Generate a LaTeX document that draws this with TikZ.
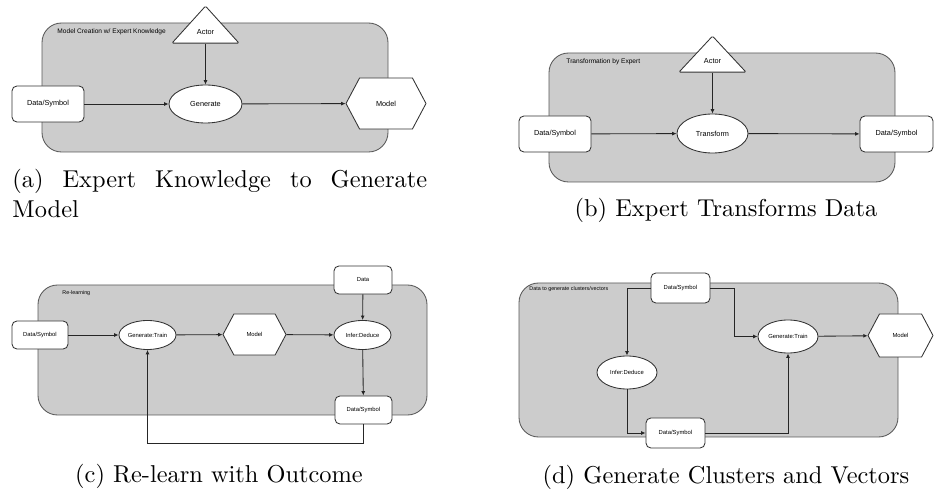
\documentclass[tikz,border=0pt]{standalone}
\usepackage{fontspec}
\newfontfamily\diafont{Liberation Sans}
\usetikzlibrary{shapes.geometric,shapes.symbols,arrows.meta}
\newcommand{\pxu}{0.41pt}
\tikzset{
  grp/.style={draw=black!65, fill=gray!40, line width=0.35pt, rounded corners=8pt},
  ttl/.style={anchor=base west, inner sep=0pt, font=\diafont\fontsize{2.7}{3}\selectfont},
  ttlsm/.style={ttl, font=\diafont\fontsize{2.2}{2.6}\selectfont},
  big/.style={font=\diafont\fontsize{3}{3.6}\selectfont},
  sml/.style={font=\diafont\fontsize{2.4}{2.9}\selectfont},
  databox/.style={rectangle, draw=black!80, fill=white, line width=0.35pt, rounded corners=2pt, inner sep=0pt},
  proc/.style={ellipse, draw=black!80, fill=white, line width=0.35pt, inner sep=0pt},
  mdl/.style={signal, signal to=east and west, signal pointer angle=124, draw=black!80, fill=white, line width=0.35pt, inner sep=0pt},
  actr/.style={isosceles triangle, isosceles triangle stretches, shape border rotate=90, draw=black!80, fill=white, line width=0.35pt, inner sep=0pt, rounded corners=0.5pt, anchor=apex},
  arr/.style={-{Latex[length=1.8pt,width=1.6pt]}, line width=0.35pt, draw=black!85},
  capt/.style={inner sep=0pt, font=\normalsize}
}
\begin{document}
\begin{tikzpicture}[x=\pxu, y=-\pxu]
\useasboundingbox (0,0) rectangle (938,497);

% (a) expert knowledge
\draw[grp] (42,23) rectangle (388,152);
\node[ttl] (ttlA) at (57,34) {Model Creation w/ Expert Knowledge};
\node[databox, big, minimum width=72*\pxu, minimum height=36*\pxu] (dsA) at (48,104) {Data/Symbol};
\node[proc, big, minimum width=73*\pxu, minimum height=38*\pxu] (genA) at (205.5,104) {Generate};
\node[mdl, big, minimum width=80*\pxu, minimum height=51*\pxu] (mdlA) at (386,103.5) {Model};
\node[actr, big, minimum width=67*\pxu, minimum height=37*\pxu] (actA) at (205.5,5) {Actor};
\draw[arr] (dsA) -- (genA);
\draw[arr] (genA) -- (mdlA);
\draw[arr] (actA.lower side) -- (genA);

% (b) transformation
\draw[grp] (549,53) rectangle (895,182);
\node[ttl] (ttlB) at (566,63.5) {Transformation by Expert};
\node[databox, big, minimum width=72*\pxu, minimum height=36*\pxu] (dsB1) at (555,134) {Data/Symbol};
\node[proc, big, minimum width=71*\pxu, minimum height=39*\pxu] (trB) at (712.5,133.5) {Transform};
\node[databox, big, minimum width=73*\pxu, minimum height=36*\pxu] (dsB2) at (896.5,134) {Data/Symbol};
\node[actr, big, minimum width=67*\pxu, minimum height=36*\pxu] (actB) at (712.5,35) {Actor};
\draw[arr] (dsB1) -- (trB);
\draw[arr] (trB) -- (dsB2);
\draw[arr] (actB.lower side) -- (trB);

% (c) re-learning
\draw[grp] (38,285) rectangle (427,415);
\node[ttlsm] (ttlC) at (62,294.5) {Re-learning};
\node[databox, sml, minimum width=58*\pxu, minimum height=28*\pxu] (datC) at (363,280) {Data};
\node[databox, sml, minimum width=56*\pxu, minimum height=28*\pxu] (dsC1) at (40,335) {Data/Symbol};
\node[proc, sml, minimum width=57*\pxu, minimum height=29*\pxu] (genC) at (147.5,335) {Generate:Train};
\node[mdl, sml, minimum width=63*\pxu, minimum height=41*\pxu] (mdlC) at (254.5,334.5) {Model};
\node[proc, sml, minimum width=57*\pxu, minimum height=29*\pxu] (infC) at (362.5,335) {Infer:Deduce};
\node[databox, sml, minimum width=57*\pxu, minimum height=28*\pxu] (dsC2) at (363.5,410) {Data/Symbol};
\draw[arr] (dsC1) -- (genC);
\draw[arr] (genC) -- (mdlC);
\draw[arr] (mdlC) -- (infC);
\draw[arr] (datC) -- (infC);
\draw[arr] (infC) -- (dsC2);
\draw[arr] (dsC2.south) -- ++(0,19) -| (genC.south);

% (d) clusters and vectors
\draw[grp] (519,283) rectangle (898,437);
\node[ttlsm] (ttlD) at (529,290.5) {Data to generate clusters/vectors};
\node[databox, sml, minimum width=59*\pxu, minimum height=30*\pxu] (dsD1) at (680.5,288) {Data/Symbol};
\node[proc, sml, minimum width=60*\pxu, minimum height=33*\pxu] (genD) at (788,336.5) {Generate:Train};
\node[mdl, sml, minimum width=65*\pxu, minimum height=43*\pxu] (mdlD) at (900.5,335.5) {Model};
\node[proc, sml, minimum width=60*\pxu, minimum height=33*\pxu] (infD) at (627,372.5) {Infer:Deduce};
\node[databox, sml, minimum width=59*\pxu, minimum height=30*\pxu] (dsD2) at (675.5,433) {Data/Symbol};
\draw[arr] (dsD1.west) -| (infD.north);
\draw[arr] (dsD1.east) -- ++(24,0) |- (genD.west);
\draw[arr] (genD) -- (mdlD);
\draw[arr] (infD.south) |- (dsD2.west);
\draw[arr] (dsD2.east) -| (genD.south);

% captions
\node[capt, text width=170pt, align=justify, anchor=north west, font={\normalsize\tolerance=10000\hyphenpenalty=10000}] (capA) at (12,169) {(a) Expert Knowledge to Generate Model};
\node[capt, anchor=base] (capB) at (726,217) {(b) Expert Transforms Data};
\node[capt, anchor=base] (capC) at (219,483) {(c) Re-learn with Outcome};
\node[capt, anchor=base] (capD) at (726,484) {(d) Generate Clusters and Vectors};
\end{tikzpicture}
\end{document}
